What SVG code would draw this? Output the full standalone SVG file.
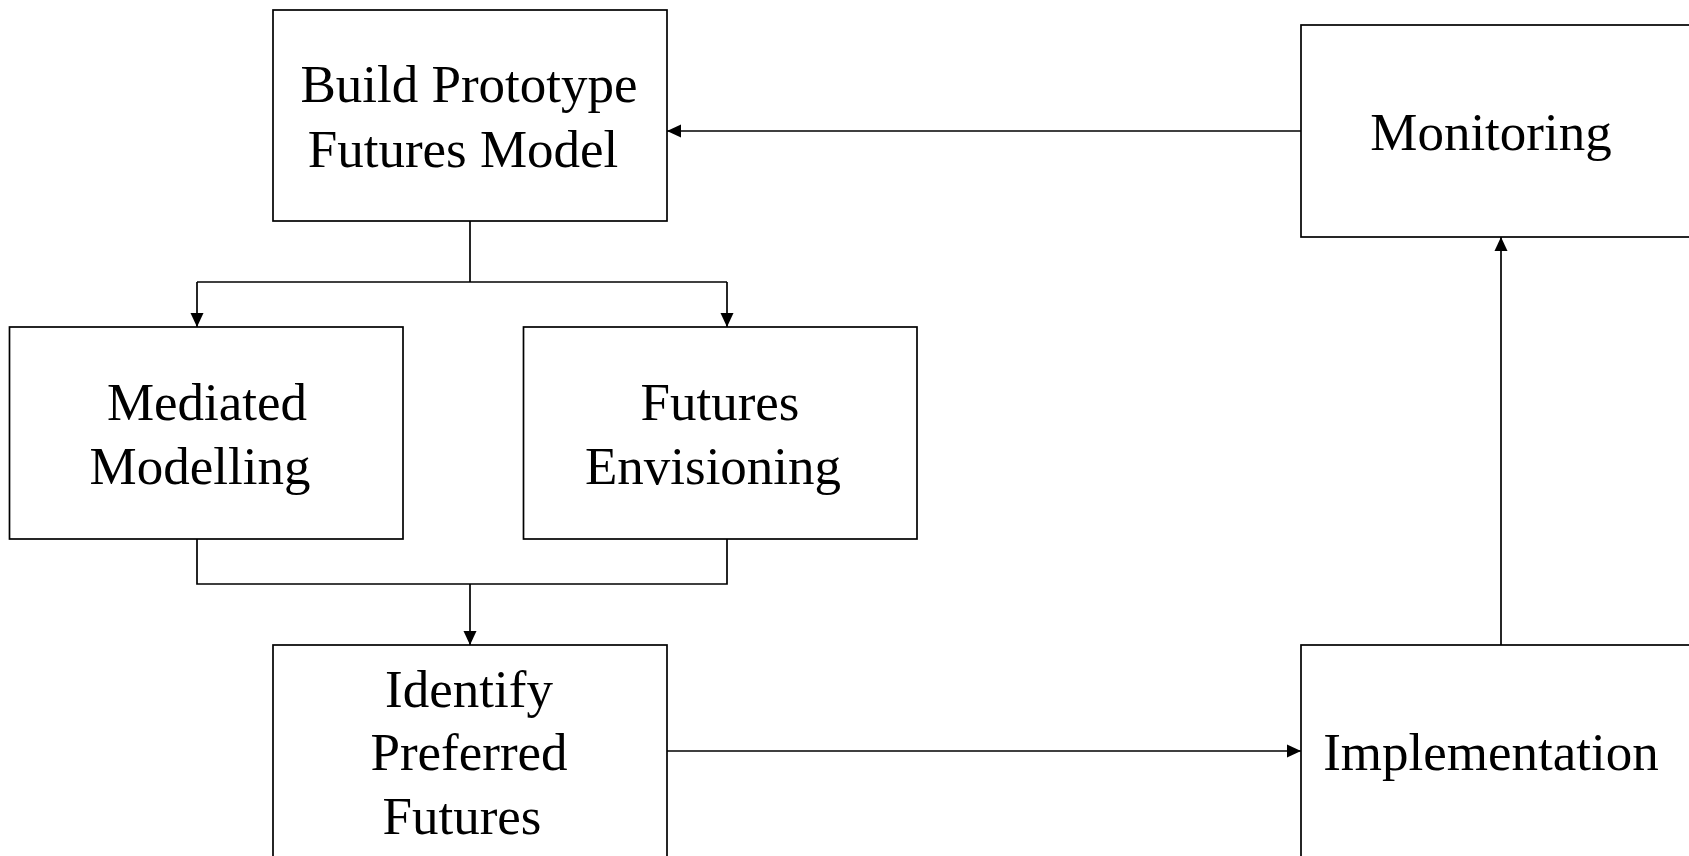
<svg xmlns="http://www.w3.org/2000/svg" width="1689" height="856" viewBox="0 0 1689 856">
  <style>
    .box { fill: #ffffff; stroke: #000000; stroke-width: 1.7; }
    .lbl { font-family: "Liberation Serif", "Times New Roman", serif; font-size: 53px; fill: #000000; text-anchor: middle; }
    .wire { fill: none; stroke: #000000; stroke-width: 1.7; }
  </style>
  <defs>
    <marker id="arrow" viewBox="0 0 14 14" refX="14" refY="7" markerWidth="14" markerHeight="14" markerUnits="userSpaceOnUse" orient="auto">
      <path d="M0,0.5 L14,7 L0,13.5 Z" fill="#000000"/>
    </marker>
  </defs>

  <rect width="1689" height="856" fill="#ffffff"/>

  <g id="connectors">
    <!-- Monitoring back to prototype model -->
    <path class="wire" d="M1301,131 L667,131" marker-end="url(#arrow)"/>
    <!-- Prototype model splits into two activities -->
    <path class="wire" d="M470,221 L470,282"/>
    <path class="wire" d="M197,282 L727,282"/>
    <path class="wire" d="M197,282 L197,327" marker-end="url(#arrow)"/>
    <path class="wire" d="M727,282 L727,327" marker-end="url(#arrow)"/>
    <!-- Activities merge into preferred futures -->
    <path class="wire" d="M197,539 L197,584 L727,584 L727,539"/>
    <path class="wire" d="M470,584 L470,645" marker-end="url(#arrow)"/>
    <!-- Preferred futures to implementation -->
    <path class="wire" d="M667,751 L1301,751" marker-end="url(#arrow)"/>
    <!-- Implementation up to monitoring -->
    <path class="wire" d="M1501,645 L1501,237" marker-end="url(#arrow)"/>
  </g>

  <g id="build-prototype">
    <rect class="box" x="273" y="10" width="394" height="211"/>
    <text class="lbl" x="469" y="102">Build Prototype</text>
    <text class="lbl" x="463" y="167">Futures Model</text>
  </g>

  <g id="monitoring">
    <rect class="box" x="1301" y="25" width="394" height="212"/>
    <text class="lbl" x="1491" y="150">Monitoring</text>
  </g>

  <g id="mediated-modelling">
    <rect class="box" x="9.5" y="327" width="393.5" height="212"/>
    <text class="lbl" x="207" y="420">Mediated</text>
    <text class="lbl" x="200" y="484">Modelling</text>
  </g>

  <g id="futures-envisioning">
    <rect class="box" x="523.5" y="327" width="393.5" height="212"/>
    <text class="lbl" x="720" y="420">Futures</text>
    <text class="lbl" x="713" y="484">Envisioning</text>
  </g>

  <g id="identify-preferred-futures">
    <rect class="box" x="273" y="645" width="394" height="230"/>
    <text class="lbl" x="469" y="707">Identify</text>
    <text class="lbl" x="469" y="770">Preferred</text>
    <text class="lbl" x="462" y="834">Futures</text>
  </g>

  <g id="implementation">
    <rect class="box" x="1301" y="645" width="394" height="230"/>
    <text class="lbl" x="1491" y="770">Implementation</text>
  </g>
</svg>
